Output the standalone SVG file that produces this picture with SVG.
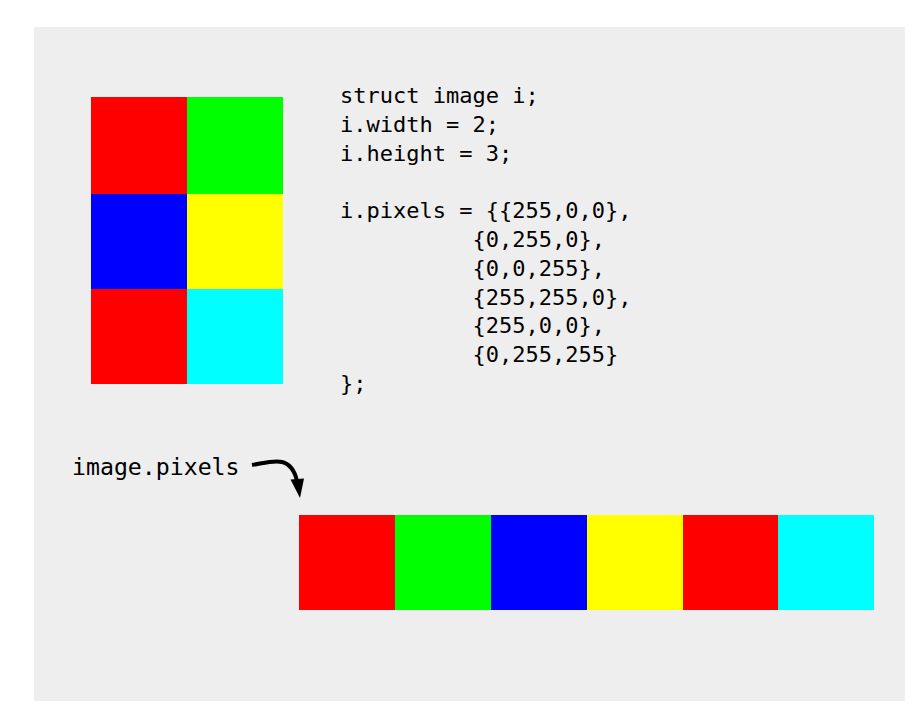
<svg xmlns="http://www.w3.org/2000/svg" width="922" height="716" viewBox="0 0 922 716">
  <defs>
    <style>
      .code { font-family: "DejaVu Sans Mono", "Liberation Mono", monospace; font-size: 22px; fill: #000; }
      .label { font-family: "DejaVu Sans Mono", "Liberation Mono", monospace; font-size: 23.2px; fill: #000; }
      .conn { fill: none; stroke: #000; stroke-width: 4; }
    </style>
  </defs>
  <rect x="0" y="0" width="922" height="716" fill="#fff"/>
  <rect x="34" y="27" width="871" height="674" fill="#eeeeee"/>

  <g id="grid">
    <rect x="91" y="97" width="96" height="97" fill="#ff0000"/>
    <rect x="187" y="97" width="96" height="97" fill="#00ff00"/>
    <rect x="91" y="194" width="96" height="95" fill="#0000ff"/>
    <rect x="187" y="194" width="96" height="95" fill="#ffff00"/>
    <rect x="91" y="289" width="96" height="95" fill="#ff0000"/>
    <rect x="187" y="289" width="96" height="95" fill="#00ffff"/>
  </g>

  <g id="code">
    <text class="code" x="340" y="103" xml:space="preserve">struct image i;</text>
    <text class="code" x="340" y="131.8" xml:space="preserve">i.width = 2;</text>
    <text class="code" x="340" y="160.6" xml:space="preserve">i.height = 3;</text>
    <text class="code" x="340" y="218.2" xml:space="preserve">i.pixels = {{255,0,0},</text>
    <text class="code" x="340" y="247" xml:space="preserve">          {0,255,0},</text>
    <text class="code" x="340" y="275.8" xml:space="preserve">          {0,0,255},</text>
    <text class="code" x="340" y="304.6" xml:space="preserve">          {255,255,0},</text>
    <text class="code" x="340" y="333.4" xml:space="preserve">          {255,0,0},</text>
    <text class="code" x="340" y="362.2" xml:space="preserve">          {0,255,255}</text>
    <text class="code" x="340" y="391" xml:space="preserve">};</text>
  </g>

  <g id="label">
    <text class="label" x="72" y="475">image.pixels</text>
  </g>

  <g id="connectors">
    <path class="conn" d="M252,465 C264,463 274,460 282,462 C290,464 295,472 297,481"/>
    <polygon points="290.5,479.5 304,478.5 300,498" fill="#000"/>
  </g>

  <g id="row">
    <rect x="299" y="515" width="96" height="95" fill="#ff0000"/>
    <rect x="395" y="515" width="96" height="95" fill="#00ff00"/>
    <rect x="491" y="515" width="96" height="95" fill="#0000ff"/>
    <rect x="587" y="515" width="96" height="95" fill="#ffff00"/>
    <rect x="683" y="515" width="95" height="95" fill="#ff0000"/>
    <rect x="778" y="515" width="96" height="95" fill="#00ffff"/>
  </g>
</svg>
